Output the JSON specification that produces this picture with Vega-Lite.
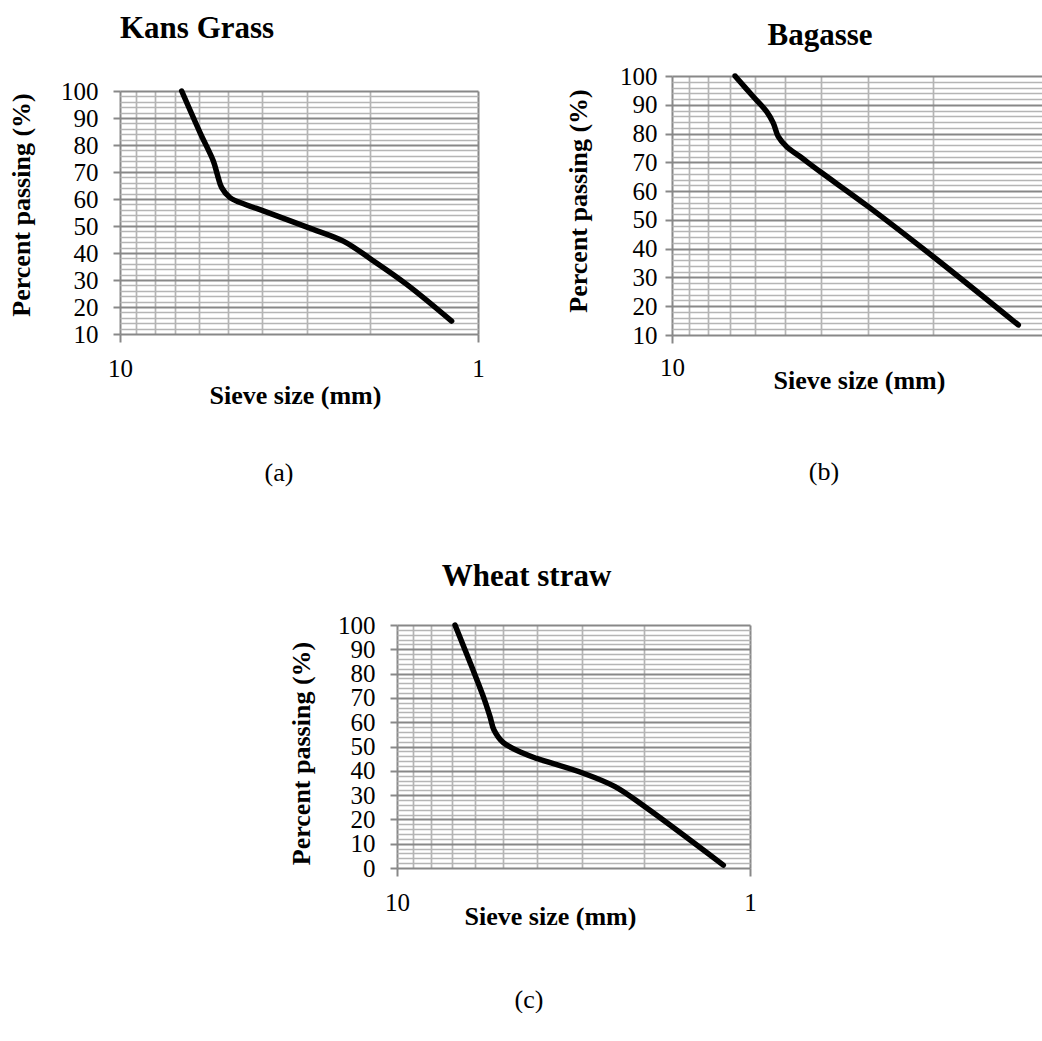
{
  "$schema": "https://vega.github.io/schema/vega-lite/v6.json",
  "background": "white",
  "padding": {"left": 7, "top": 12, "right": 0, "bottom": 0},
  "config": {
    "view": {"stroke": null},
    "font": "Liberation Serif",
    "axis": {
      "domain": false,
      "labelFont": "Liberation Serif",
      "labelFontSize": 25,
      "labelColor": "#000000",
      "labelOverlap": false,
      "labelBound": false,
      "titleFont": "Liberation Serif",
      "titleFontSize": 26,
      "titleFontWeight": "bold",
      "titleColor": "#000000",
      "tickColor": "#888888",
      "tickWidth": 2
    },
    "title": {
      "font": "Liberation Serif",
      "fontSize": 31,
      "fontWeight": "bold",
      "color": "#000000"
    }
  },
  "datasets": {
    "kans": [
      {"size": 6.725, "passing": 100},
      {"size": 5.977, "passing": 84.6},
      {"size": 5.487, "passing": 74.1},
      {"size": 5.348, "passing": 69.1},
      {"size": 5.2, "passing": 64.2},
      {"size": 4.929, "passing": 60.5},
      {"size": 4.429, "passing": 57.8},
      {"size": 3.977, "passing": 55.6},
      {"size": 2.978, "passing": 49.4},
      {"size": 2.378, "passing": 44.4},
      {"size": 1.99, "passing": 37.7},
      {"size": 1.582, "passing": 28.4},
      {"size": 1.185, "passing": 14.8}
    ],
    "bagasse": [
      {"size": 6.784, "passing": 100},
      {"size": 6.06, "passing": 92.8},
      {"size": 5.583, "passing": 87.6},
      {"size": 5.359, "passing": 83.6},
      {"size": 5.197, "passing": 78.9},
      {"size": 4.936, "passing": 75.4},
      {"size": 4.548, "passing": 72.0},
      {"size": 4.021, "passing": 66.8},
      {"size": 2.986, "passing": 54.6},
      {"size": 2.001, "passing": 37.2},
      {"size": 1.186, "passing": 13.5}
    ],
    "wheat": [
      {"size": 6.849, "passing": 100},
      {"size": 6.144, "passing": 82.9},
      {"size": 5.694, "passing": 70.5},
      {"size": 5.452, "passing": 62.3},
      {"size": 5.312, "passing": 56.8},
      {"size": 4.998, "passing": 51.6},
      {"size": 4.387, "passing": 47.2},
      {"size": 4.022, "passing": 45.1},
      {"size": 2.966, "passing": 39.0},
      {"size": 2.412, "passing": 33.5},
      {"size": 1.984, "passing": 25.2},
      {"size": 1.19, "passing": 1.2}
    ],
    "none": []
  },
  "bounds": "flush",
  "spacing": 549,
  "vconcat": [
    {
      "bounds": "flush",
      "spacing": 552,
      "hconcat": [
        {
          "bounds": "flush",
          "spacing": 14,
          "title": {"text": "(a)", "orient": "bottom", "anchor": "middle", "frame": "group", "baseline": "alphabetic", "offset": 73, "dx": 159, "fontSize": 26, "fontWeight": "normal"},
          "vconcat": [
            {"width": 1, "height": 1, "data": {"name": "none"}, "mark": "rect", "encoding": {}},
            {
              "width": 358,
              "height": 243,
              "data": {"name": "kans"},
              "title": {"text": "Kans Grass", "anchor": "start", "frame": "group", "baseline": "alphabetic", "offset": 10.5},
              "mark": {"type": "line", "interpolate": "catmull-rom", "color": "#000000", "strokeWidth": 5.5, "strokeCap": "round", "strokeJoin": "round"},
              "encoding": {
                "x": {
                  "field": "size", "type": "quantitative",
                  "scale": {"type": "log", "domain": [1, 10], "reverse": true, "nice": false},
                  "axis": {
                    "values": [1, 2, 3, 4, 5, 6, 7, 8, 9, 10],
                    "format": "d",
                    "labelExpr": "datum.value === 1 || datum.value === 10 ? datum.label : ''",
                    "labelFlush": false,
                    "labelPadding": 14,
                    "tickSize": 8,
                    "tickOpacity": {"condition": {"test": "datum.value === 1 || datum.value === 10", "value": 1}, "value": 0},
                    "grid": true,
                    "gridColor": {"condition": {"test": "datum.value === 1 || datum.value === 10", "value": "#888888"}, "value": "#b5b5b5"},
                    "gridWidth": {"condition": {"test": "datum.value === 1 || datum.value === 10", "value": 2}, "value": 1.7},
                    "title": "Sieve size (mm)",
                    "titleX": 175, "titleY": 69, "titleAlign": "center", "titleBaseline": "alphabetic"
                  }
                },
                "y": {
                  "field": "passing", "type": "quantitative",
                  "scale": {"domain": [10, 100], "nice": false, "zero": false},
                  "axis": {
                    "values": [10, 12, 14, 16, 18, 20, 22, 24, 26, 28, 30, 32, 34, 36, 38, 40, 42, 44, 46, 48, 50, 52, 54, 56, 58, 60, 62, 64, 66, 68, 70, 72, 74, 76, 78, 80, 82, 84, 86, 88, 90, 92, 94, 96, 98, 100],
                    "labelExpr": "datum.value % 10 === 0 ? datum.label : ''",
                    "labelPadding": 15,
                    "tickSize": 7,
                    "tickOpacity": {"condition": {"test": "datum.value % 10 === 0", "value": 1}, "value": 0},
                    "grid": true,
                    "gridColor": {"condition": {"test": "datum.value % 10 === 0", "value": "#888888"}, "value": "#b5b5b5"},
                    "gridWidth": {"condition": {"test": "datum.value % 10 === 0", "value": 2}, "value": 1.7},
                    "title": "Percent passing (%)",
                    "titleX": -91, "titleY": 113.5, "titleAngle": -90, "titleAlign": "center", "titleBaseline": "alphabetic"
                  }
                }
              }
            }
          ]
        },
        {
          "bounds": "flush",
          "title": {"text": "(b)", "orient": "bottom", "anchor": "middle", "frame": "group", "baseline": "alphabetic", "offset": 87, "dx": 152, "fontSize": 26, "fontWeight": "normal"},
          "vconcat": [
            {
              "width": 374,
              "height": 259,
              "data": {"name": "bagasse"},
              "title": {"text": "Bagasse", "anchor": "middle", "frame": "group", "baseline": "alphabetic", "offset": -12, "dx": -39},
              "mark": {"type": "line", "interpolate": "catmull-rom", "color": "#000000", "strokeWidth": 5.5, "strokeCap": "round", "strokeJoin": "round"},
              "encoding": {
                "x": {
                  "field": "size", "type": "quantitative",
                  "scale": {"type": "log", "domain": [1, 10], "reverse": true, "nice": false},
                  "axis": {
                    "values": [1, 2, 3, 4, 5, 6, 7, 8, 9, 10],
                    "format": "d",
                    "labelExpr": "datum.value === 1 || datum.value === 10 ? datum.label : ''",
                    "labelFlush": false,
                    "labelPadding": 12,
                    "tickSize": 8,
                    "tickOpacity": {"condition": {"test": "datum.value === 1 || datum.value === 10", "value": 1}, "value": 0},
                    "grid": true,
                    "gridColor": {"condition": {"test": "datum.value === 1 || datum.value === 10", "value": "#888888"}, "value": "#b5b5b5"},
                    "gridWidth": {"condition": {"test": "datum.value === 1 || datum.value === 10", "value": 2}, "value": 1.7},
                    "title": "Sieve size (mm)",
                    "titleX": 187, "titleY": 53, "titleAlign": "center", "titleBaseline": "alphabetic"
                  }
                },
                "y": {
                  "field": "passing", "type": "quantitative",
                  "scale": {"domain": [10, 100], "nice": false, "zero": false},
                  "axis": {
                    "values": [10, 12, 14, 16, 18, 20, 22, 24, 26, 28, 30, 32, 34, 36, 38, 40, 42, 44, 46, 48, 50, 52, 54, 56, 58, 60, 62, 64, 66, 68, 70, 72, 74, 76, 78, 80, 82, 84, 86, 88, 90, 92, 94, 96, 98, 100],
                    "labelExpr": "datum.value % 10 === 0 ? datum.label : ''",
                    "labelPadding": 8,
                    "tickSize": 7,
                    "tickOpacity": {"condition": {"test": "datum.value % 10 === 0", "value": 1}, "value": 0},
                    "grid": true,
                    "gridColor": {"condition": {"test": "datum.value % 10 === 0", "value": "#888888"}, "value": "#b5b5b5"},
                    "gridWidth": {"condition": {"test": "datum.value % 10 === 0", "value": 2}, "value": 1.7},
                    "title": "Percent passing (%)",
                    "titleX": -85.5, "titleY": 124.5, "titleAngle": -90, "titleAlign": "center", "titleBaseline": "alphabetic"
                  }
                }
              }
            }
          ]
        }
      ]
    },
    {
      "bounds": "flush",
      "spacing": 276,
      "hconcat": [
        {"width": 1, "height": 1, "data": {"name": "none"}, "mark": "rect", "encoding": {}},
        {
          "bounds": "flush",
          "title": {"text": "(c)", "orient": "bottom", "anchor": "middle", "frame": "group", "baseline": "alphabetic", "offset": 79, "dx": 132, "fontSize": 26, "fontWeight": "normal"},
          "vconcat": [
            {
              "width": 353,
              "height": 243,
              "data": {"name": "wheat"},
              "title": {"text": "Wheat straw", "anchor": "middle", "frame": "group", "baseline": "alphabetic", "offset": -4, "dx": -47},
              "mark": {"type": "line", "interpolate": "catmull-rom", "color": "#000000", "strokeWidth": 5.5, "strokeCap": "round", "strokeJoin": "round"},
              "encoding": {
                "x": {
                  "field": "size", "type": "quantitative",
                  "scale": {"type": "log", "domain": [1, 10], "reverse": true, "nice": false},
                  "axis": {
                    "values": [1, 2, 3, 4, 5, 6, 7, 8, 9, 10],
                    "format": "d",
                    "labelExpr": "datum.value === 1 || datum.value === 10 ? datum.label : ''",
                    "labelFlush": false,
                    "labelPadding": 14,
                    "tickSize": 8,
                    "tickOpacity": {"condition": {"test": "datum.value === 1 || datum.value === 10", "value": 1}, "value": 0},
                    "grid": true,
                    "gridColor": {"condition": {"test": "datum.value === 1 || datum.value === 10", "value": "#888888"}, "value": "#b5b5b5"},
                    "gridWidth": {"condition": {"test": "datum.value === 1 || datum.value === 10", "value": 2}, "value": 1.7},
                    "title": "Sieve size (mm)",
                    "titleX": 153, "titleY": 56, "titleAlign": "center", "titleBaseline": "alphabetic"
                  }
                },
                "y": {
                  "field": "passing", "type": "quantitative",
                  "scale": {"domain": [0, 100], "nice": false},
                  "axis": {
                    "values": [0, 2, 4, 6, 8, 10, 12, 14, 16, 18, 20, 22, 24, 26, 28, 30, 32, 34, 36, 38, 40, 42, 44, 46, 48, 50, 52, 54, 56, 58, 60, 62, 64, 66, 68, 70, 72, 74, 76, 78, 80, 82, 84, 86, 88, 90, 92, 94, 96, 98, 100],
                    "labelExpr": "datum.value % 10 === 0 ? datum.label : ''",
                    "labelPadding": 15,
                    "tickSize": 7,
                    "tickOpacity": {"condition": {"test": "datum.value % 10 === 0", "value": 1}, "value": 0},
                    "grid": true,
                    "gridColor": {"condition": {"test": "datum.value % 10 === 0", "value": "#888888"}, "value": "#b5b5b5"},
                    "gridWidth": {"condition": {"test": "datum.value % 10 === 0", "value": 2}, "value": 1.7},
                    "title": "Percent passing (%)",
                    "titleX": -87.5, "titleY": 128, "titleAngle": -90, "titleAlign": "center", "titleBaseline": "alphabetic"
                  }
                }
              }
            }
          ]
        }
      ]
    }
  ]
}
